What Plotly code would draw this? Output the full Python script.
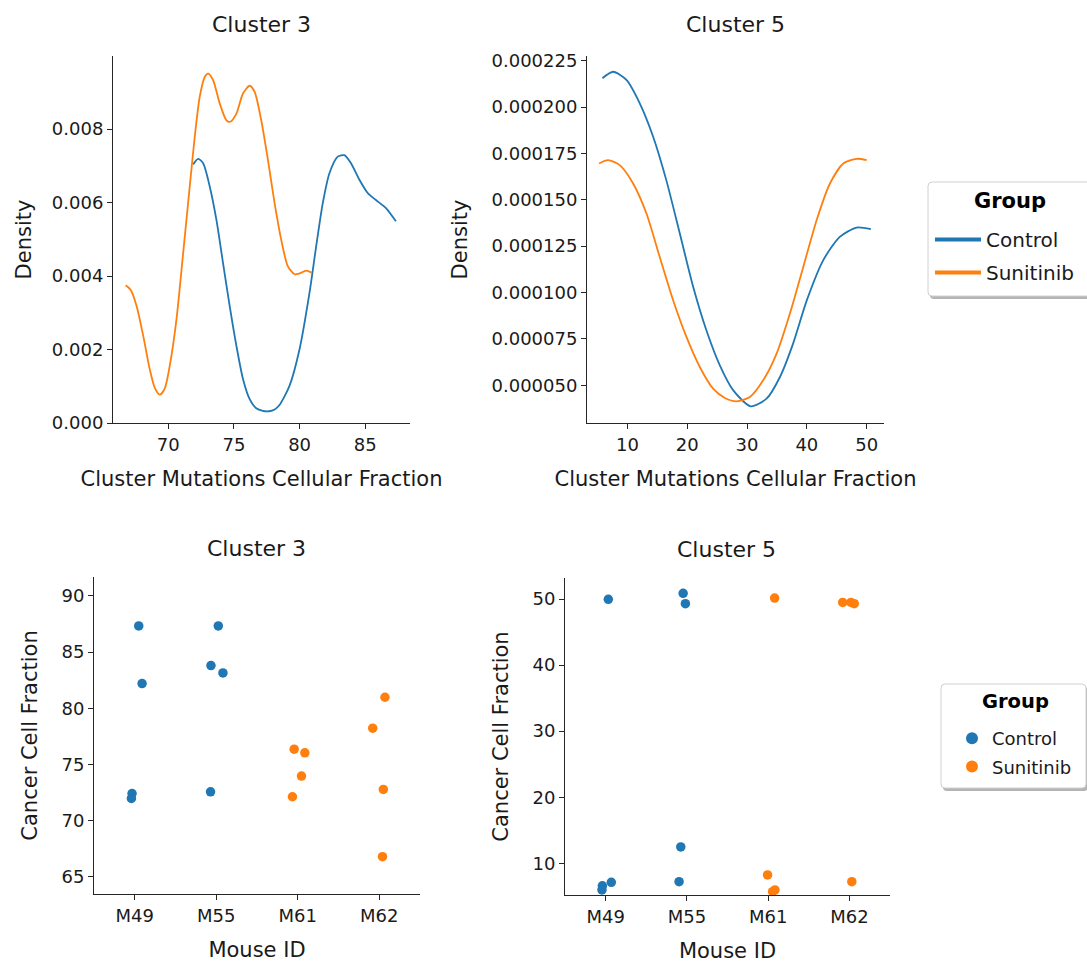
import plotly.graph_objects as go

# ---------------- data ----------------
groups = ["Control", "Sunitinib"]
colors = {"Control": "#1f77b4", "Sunitinib": "#ff7f0e"}

# KDE curves, Cluster 3
c3_ctrl_x = [71.9, 72.28, 72.66, 73.16, 73.67, 74.17, 74.68, 75.19, 75.69, 76.2, 76.7, 77.2, 77.67, 78.1, 78.47,
             79.23, 79.99, 80.75, 81.26, 81.76, 82.27, 82.9, 83.41, 83.91, 84.55, 85.18, 85.81, 86.57, 87.33]
c3_ctrl_y = [0.00704, 0.00719, 0.00707, 0.00644, 0.00553, 0.00436, 0.00318, 0.0021, 0.0012, 0.00065, 0.0004,
             0.00033, 0.00032, 0.00037, 0.00049, 0.00101, 0.002, 0.00354, 0.00481, 0.00598, 0.0068, 0.00725,
             0.00729, 0.00707, 0.00662, 0.00626, 0.00607, 0.00585, 0.00549]
c3_sun_x = [66.76, 67.14, 67.6, 68.1, 68.6, 68.99, 69.37, 69.75, 70.13, 70.63, 71.14, 71.64, 72.02, 72.4, 72.78,
            73.04, 73.42, 73.92, 74.43, 74.73, 75.19, 75.69, 76.2, 76.58, 77.08, 77.59, 78.1, 78.6, 79.1, 79.61,
            79.99, 80.5, 80.93]
c3_sun_y = [0.00375, 0.00363, 0.00318, 0.00237, 0.00146, 0.00095, 0.00077, 0.00095, 0.00158, 0.00282, 0.00463,
            0.00644, 0.00779, 0.00888, 0.00942, 0.00951, 0.00933, 0.0087, 0.00824, 0.0082, 0.00842, 0.00897,
            0.00918, 0.00901, 0.00824, 0.00716, 0.00598, 0.00499, 0.00427, 0.00405, 0.00407, 0.00415, 0.00409]

# KDE curves, Cluster 5
c5_ctrl_x = [5.82, 7.6, 9.83, 12.06, 14.3, 16.5, 18.76, 21.0, 23.2, 25.45, 27.7, 30.6, 33.26, 35.5, 37.7, 40.0,
             42.75, 45.5, 48.3, 50.7]
c5_ctrl_y = [0.0002155, 0.000219, 0.0002146, 0.000202, 0.000184, 0.0001606, 0.0001318, 0.000103, 0.0000797,
             0.0000608, 0.0000473, 0.0000387, 0.0000428, 0.0000545, 0.0000725, 0.0000959, 0.0001175, 0.00013,
             0.000135, 0.0001342]
c5_sun_x = [5.26, 6.76, 8.72, 10.95, 13.18, 15.4, 17.64, 19.87, 22.1, 24.33, 26.3, 28.24, 30.47, 32.7, 34.94,
            37.17, 39.4, 41.63, 43.86, 46.1, 48.33, 50.0]
c5_sun_y = [0.0001696, 0.0001714, 0.0001687, 0.0001588, 0.0001426, 0.0001192, 0.0000959, 0.0000761, 0.0000599,
            0.0000482, 0.0000432, 0.0000414, 0.0000437, 0.0000527, 0.0000671, 0.0000887, 0.0001138, 0.000139,
            0.0001588, 0.0001696, 0.0001721, 0.0001714]

# Strip plots
mice = ["M49", "M55", "M61", "M62"]

c3_ctrl_mouse = [0, 0, 0, 0, 1, 1, 1, 1]
c3_ctrl_jit = [0.049, 0.09, -0.033, -0.041, 0.025, -0.065, 0.082, -0.07]
c3_ctrl_ccf = [87.33, 82.2, 72.41, 71.97, 87.33, 83.8, 83.15, 72.56]
c3_sun_mouse = [2, 2, 2, 2, 3, 3, 3, 3]
c3_sun_jit = [-0.044, 0.087, 0.046, -0.065, -0.08, 0.07, 0.05, 0.04]
c3_sun_ccf = [76.36, 76.03, 73.96, 72.12, 78.23, 80.98, 72.77, 66.78]

c5_ctrl_mouse = [0, 0, 0, 0, 1, 1, 1, 1]
c5_ctrl_jit = [0.033, -0.04, -0.045, 0.07, -0.046, -0.018, -0.075, -0.096]
c5_ctrl_ccf = [49.95, 6.6, 5.96, 7.12, 50.86, 49.29, 12.47, 7.22]
c5_sun_mouse = [2, 2, 2, 2, 3, 3, 3, 3]
c5_sun_jit = [0.08, -0.007, 0.055, 0.084, -0.082, 0.02, 0.06, 0.03]
c5_sun_ccf = [50.15, 8.23, 5.71, 5.96, 49.49, 49.49, 49.29, 7.22]

# ---------------- figure ----------------
W, H = 1087, 963
FONT = "DejaVu Sans"
AX = "#262626"
TXT = "#1a1a1a"

def px_x(a, b):
    return [a / W, b / W]

def px_y(top, bottom):
    return [1 - bottom / H, 1 - top / H]

fig = go.Figure()

def line(x, y, g, xa, ya):
    fig.add_trace(go.Scatter(x=x, y=y, mode="lines", name=g, showlegend=False,
                             line=dict(color=colors[g], width=1.8, shape="spline", smoothing=0.7),
                             xaxis=xa, yaxis=ya))

line(c3_ctrl_x, c3_ctrl_y, "Control", "x", "y")
line(c3_sun_x, c3_sun_y, "Sunitinib", "x", "y")
line(c5_ctrl_x, c5_ctrl_y, "Control", "x2", "y2")
line(c5_sun_x, c5_sun_y, "Sunitinib", "x2", "y2")

# legend entries for the KDE row
for g in groups:
    fig.add_trace(go.Scatter(x=[None], y=[None], mode="lines", name=g, legend="legend",
                             legendgroup="kde_" + g,
                             line=dict(color=colors[g], width=4), xaxis="x", yaxis="y"))

def strip(mouse, jit, ccf, g, xa, ya, show):
    fig.add_trace(go.Scatter(x=[m + j for m, j in zip(mouse, jit)], y=ccf, mode="markers",
                             name=g, showlegend=show, legend="legend2", legendgroup="strip_" + g,
                             marker=dict(color=colors[g], size=9.5, line=dict(width=0)),
                             xaxis=xa, yaxis=ya))

strip(c3_ctrl_mouse, c3_ctrl_jit, c3_ctrl_ccf, "Control", "x3", "y3", True)
strip(c3_sun_mouse, c3_sun_jit, c3_sun_ccf, "Sunitinib", "x3", "y3", True)
strip(c5_ctrl_mouse, c5_ctrl_jit, c5_ctrl_ccf, "Control", "x4", "y4", False)
strip(c5_sun_mouse, c5_sun_jit, c5_sun_ccf, "Sunitinib", "x4", "y4", False)

tickfont = dict(family=FONT, size=18, color=TXT)
titlefont = dict(family=FONT, size=21, color=TXT)

def axis(domain, rng, title, standoff, anchor, **kw):
    d = dict(domain=domain, range=rng, anchor=anchor, showline=True, linecolor=AX, linewidth=1,
             ticks="outside", ticklen=5, tickwidth=1, tickcolor=AX, showgrid=False, zeroline=False,
             tickfont=tickfont, title=dict(text=title, font=titlefont, standoff=standoff),
             automargin=False, mirror=False)
    d.update(kw)
    return d

fig.update_layout(
    width=W, height=H, margin=dict(l=0, r=0, t=0, b=0),
    paper_bgcolor="white", plot_bgcolor="white",
    font=dict(family=FONT, color=TXT),
    xaxis=axis(px_x(113, 410), [65.8, 88.4], "Cluster Mutations Cellular Fraction", 17, "y",
               tickvals=[70, 75, 80, 85]),
    yaxis=axis(px_y(56, 423), [0, 0.00999], "Density", 14, "x",
               tickvals=[0, 0.002, 0.004, 0.006, 0.008], tickformat=".3f"),
    xaxis2=axis(px_x(587, 884), [3.24, 52.9], "Cluster Mutations Cellular Fraction", 17, "y2",
                tickvals=[10, 20, 30, 40, 50]),
    yaxis2=axis(px_y(56, 423), [0.0000297, 0.0002275], "Density", 18, "x2",
                tickvals=[0.00005, 0.000075, 0.0001, 0.000125, 0.00015, 0.000175, 0.0002, 0.000225],
                tickformat=".6f"),
    xaxis3=axis(px_x(94, 420), [-0.5, 3.5], "Mouse ID", 17, "y3",
                tickvals=[0, 1, 2, 3], ticktext=mice),
    yaxis3=axis(px_y(577, 894), [63.46, 91.69], "Cancer Cell Fraction", 18, "x3",
                tickvals=[65, 70, 75, 80, 85, 90]),
    xaxis4=axis(px_x(565, 890), [-0.5, 3.5], "Mouse ID", 17, "y4",
                tickvals=[0, 1, 2, 3], ticktext=mice),
    yaxis4=axis(px_y(578, 895), [5.2, 53.18], "Cancer Cell Fraction", 18, "x4",
                tickvals=[10, 20, 30, 40, 50]),
    legend=dict(x=930 / W, y=1 - 220 / H, xanchor="left", yanchor="top",
                bgcolor="rgba(0,0,0,0)", borderwidth=0, itemwidth=46,
                font=dict(family=FONT, size=20, color=TXT), tracegroupgap=4),
    legend2=dict(x=952 / W, y=1 - 720 / H, xanchor="left", yanchor="top",
                 bgcolor="rgba(0,0,0,0)", borderwidth=0, itemsizing="constant",
                 font=dict(family=FONT, size=18, color=TXT), tracegroupgap=2),
)

# legend frames (rounded box with soft shadow) drawn as layout shapes
def rounded(x0, y0, x1, y1, r=4):
    X = lambda v: v / W
    Y = lambda v: 1 - v / H
    return (f"M{X(x0 + r)},{Y(y0)} L{X(x1 - r)},{Y(y0)} Q{X(x1)},{Y(y0)} {X(x1)},{Y(y0 + r)} "
            f"L{X(x1)},{Y(y1 - r)} Q{X(x1)},{Y(y1)} {X(x1 - r)},{Y(y1)} "
            f"L{X(x0 + r)},{Y(y1)} Q{X(x0)},{Y(y1)} {X(x0)},{Y(y1 - r)} "
            f"L{X(x0)},{Y(y0 + r)} Q{X(x0)},{Y(y0)} {X(x0 + r)},{Y(y0)} Z")

for (x0, y0, x1, y1) in [(928, 182, 1098, 296), (941, 684, 1086, 788)]:
    fig.add_shape(type="path", path=rounded(x0 + 2, y0 + 3, x1 + 2, y1 + 3), xref="paper", yref="paper",
                  fillcolor="rgba(120,120,120,0.55)", line=dict(width=0), layer="above")
    fig.add_shape(type="path", path=rounded(x0, y0, x1, y1), xref="paper", yref="paper",
                  fillcolor="white", line=dict(color="#d0d0d0", width=1), layer="above")

# legend titles
for cx, cy, sz in [(1010, 201, 21), (1015, 701, 19.5)]:
    fig.add_annotation(text="<b>Group</b>", x=cx / W, y=1 - cy / H, xref="paper", yref="paper",
                       xanchor="center", yanchor="middle", showarrow=False,
                       font=dict(family=FONT, size=sz, color="black"))

# subplot titles
titles = [("Cluster 3", 261, 25), ("Cluster 5", 735, 25), ("Cluster 3", 256, 548), ("Cluster 5", 726, 549)]
for t, cx, cy in titles:
    fig.add_annotation(text=t, x=cx / W, y=1 - cy / H, xref="paper", yref="paper",
                       xanchor="center", yanchor="middle", showarrow=False,
                       font=dict(family=FONT, size=22, color=TXT))

fig.write_html("out.html")
